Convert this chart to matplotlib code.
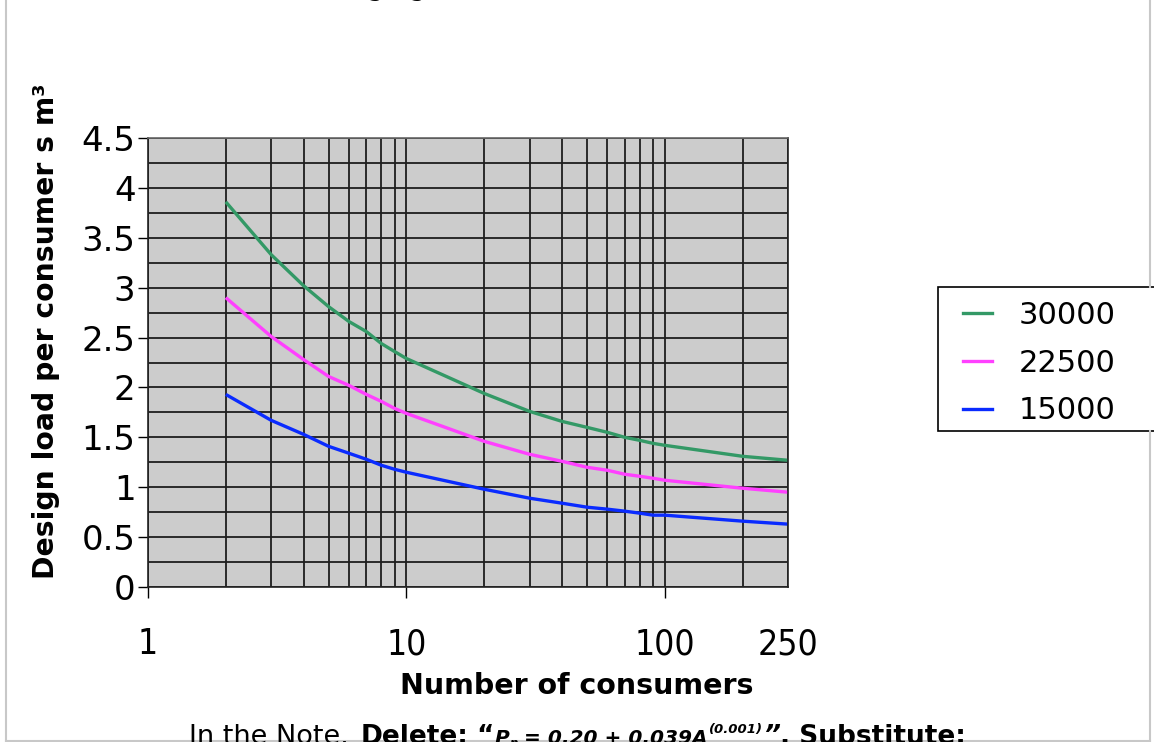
import numpy as np
import matplotlib
matplotlib.use("Agg")
import matplotlib.pyplot as plt
from matplotlib.ticker import LogLocator, MultipleLocator, NullFormatter, FuncFormatter
from matplotlib.lines import Line2D
from matplotlib.patches import Rectangle
from matplotlib.transforms import IdentityTransform

# values
consumers = [2, 3, 4, 5, 6, 7, 8, 9, 10, 20, 30, 40, 50, 60, 70, 80, 90, 100, 200, 300]
load_30000 = [3.86, 3.33, 3.02, 2.81, 2.66, 2.56, 2.44, 2.36, 2.29, 1.94, 1.76, 1.66,
              1.60, 1.55, 1.50, 1.47, 1.44, 1.42, 1.31, 1.27]
load_22500 = [2.90, 2.51, 2.28, 2.11, 2.02, 1.93, 1.86, 1.79, 1.74, 1.46, 1.33, 1.26,
              1.20, 1.17, 1.13, 1.11, 1.09, 1.07, 0.99, 0.95]
load_15000 = [1.93, 1.67, 1.53, 1.41, 1.34, 1.28, 1.22, 1.18, 1.15, 0.98, 0.89, 0.84,
              0.80, 0.78, 0.76, 0.74, 0.72, 0.72, 0.66, 0.63]
series_names = ["30000", "22500", "15000"]
series_colors = ["#339966", "#ff40ff", "#0a2bff"]
x_ticks = [1, 10, 100, 300]
x_tick_labels = ["1", "10", "100", "250"]

plt.rcParams["font.family"] = ["DejaVu Sans"]

W, H = 1154, 742
fig = plt.figure(figsize=(W / 100, H / 100), dpi=100)
ax = fig.add_axes([148 / W, 1 - 587 / H, 640 / W, 449 / H])
ax.set_facecolor("#cccccc")

for vals, col in zip([load_30000, load_22500, load_15000], series_colors):
    ax.plot(consumers, vals, color=col, lw=2.4, solid_capstyle="butt")

ax.set_xscale("log")
ax.set_xlim(1, 300)
ax.set_ylim(0, 4.5)

ax.set_xticks(x_ticks)
ax.set_xticklabels(x_tick_labels, fontstretch="condensed")
ax.xaxis.set_minor_locator(LogLocator(base=10, subs=np.arange(2, 10)))
ax.xaxis.set_minor_formatter(NullFormatter())
ax.yaxis.set_major_locator(MultipleLocator(0.5))
ax.yaxis.set_minor_locator(MultipleLocator(0.25))
ax.yaxis.set_major_formatter(FuncFormatter(lambda v, p: "{:g}".format(v)))

ax.tick_params(axis="x", which="major", length=8, width=1, pad=21, labelsize=25.5)
ax.tick_params(axis="y", which="major", length=7, width=1, pad=2, labelsize=24.5)
ax.tick_params(which="minor", length=0)
ax.xaxis.get_major_ticks()[-1].tick1line.set_visible(False)

ax.grid(True, which="both", color="#1e1e1e", lw=1.3)
ax.set_axisbelow(True)
for s in ax.spines.values():
    s.set_color("#222222")
    s.set_linewidth(1.2)
ax.spines["top"].set_color("#666666")

# axis titles
fig.text(46 / W, 1 - 331 / H, "Design load per consumer s m\u00b3", rotation=90,
         ha="center", va="center", fontsize=20.3, fontweight="bold")
fig.text(577 / W, 1 - 686 / H, "Number of consumers", ha="center", va="center",
         fontsize=20.5, fontweight="bold")

# legend with a box running off the right edge
fig.add_artist(Rectangle((938 / W, 1 - 431 / H), 230 / W, 144 / H, transform=fig.transFigure,
                         facecolor="white", edgecolor="black", lw=1.2))
handles = [Line2D([], [], color=c, lw=2.4) for c in series_colors]
fig.legend(handles, series_names, loc="center left", bbox_to_anchor=(948 / W, 1 - 363 / H),
           frameon=False, fontsize=22, handlelength=0.95, handletextpad=0.85,
           labelspacing=0.62, borderpad=0)

# page border of the source document
grey = "#c8c8c8"
fig.add_artist(Line2D([6 / W, 6 / W], [0, 1], color=grey, lw=1.5))
fig.add_artist(Line2D([6 / W, 1150 / W], [1 / H, 1 / H], color=grey, lw=1.5))
fig.add_artist(Line2D([1150 / W, 1150 / W], [1 - 287 / H, 1], color=grey, lw=1.5))
fig.add_artist(Line2D([1150 / W, 1150 / W], [0, 1 - 431 / H], color=grey, lw=1.5))

# cut-off text above the chart
fig.text(366 / W, 1 + 5 / H, "ging", fontsize=20, va="baseline", ha="left")

# cut-off note below the chart, built piece by piece
renderer = fig.canvas.get_renderer()
pieces = [
    ("In the Note.", dict(fontsize=19.5), 0, 0),
    ("Delete:", dict(fontsize=19, fontweight="bold"), 0, 12),
    ("\u201c", dict(fontsize=19, fontweight="bold"), 0, 8),
    ("P", dict(fontsize=14.5, fontweight="bold", fontstyle="italic"), 0, 1),
    ("n", dict(fontsize=8.5, fontweight="bold", fontstyle="italic"), -3, 0),
    ("= 0.20 + 0.039A", dict(fontsize=14.5, fontweight="bold", fontstyle="italic"), 0, 6),
    ("(0.001)", dict(fontsize=9.5, fontweight="bold", fontstyle="italic"), 11, 1),
    ("\u201d", dict(fontsize=19, fontweight="bold", fontstyle="italic"), 0, 0),
    (". Substitute:", dict(fontsize=19, fontweight="bold"), 0, 0),
]
x = 189
base = -2
for txt, kw, dy, gap in pieces:
    x += gap
    t = fig.text(x, base + dy, txt, transform=IdentityTransform(), va="baseline", ha="left", **kw)
    x = t.get_window_extent(renderer).x1

fig.savefig("out.png", dpi=100)
